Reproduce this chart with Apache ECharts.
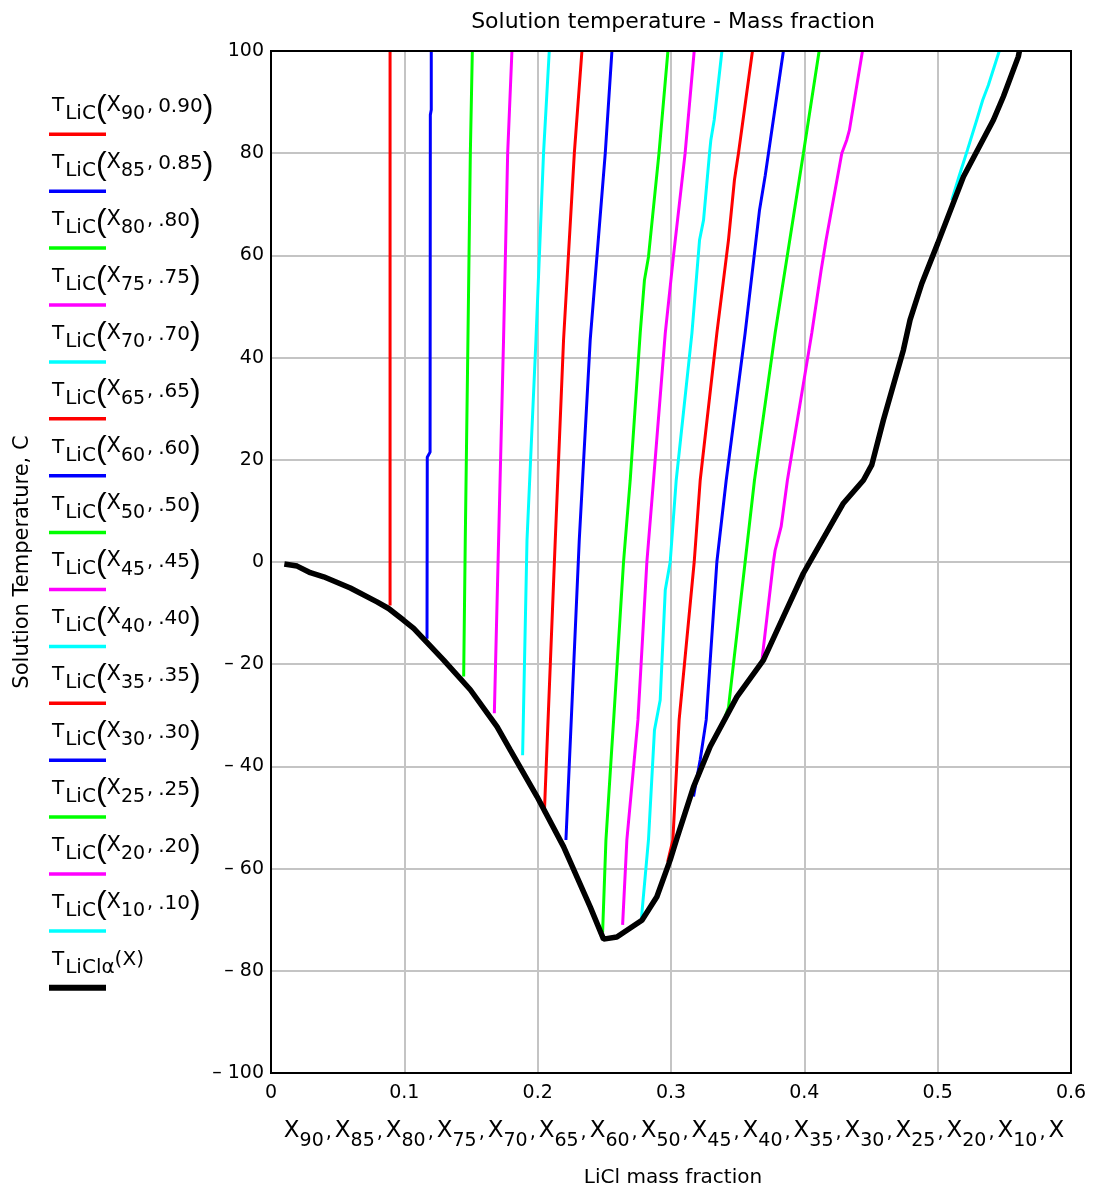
<!DOCTYPE html>
<html><head><meta charset="utf-8">
<script src="https://cdn.jsdelivr.net/npm/echarts@6/dist/echarts.min.js"></script>
<style>html,body{margin:0;padding:0;background:#fff}#c{width:1097px;height:1189px}</style>
</head><body><div id="c"></div>
<script>
// ---- data: [LiCl mass fraction, temperature C] ----
const X90 = [[0.0893,100],[0.0893,-8.5]];
const X85 = [[0.1202,100],[0.1202,88.5],[0.1195,87.5],[0.1193,21.5],[0.1172,20.5],[0.1170,-15.0]];
const X80 = [[0.1510,100],[0.1495,80],[0.1477,43.4],[0.1457,4.3],[0.1445,-22.4]];
const X75 = [[0.1807,100],[0.1775,80],[0.1744,43.4],[0.1707,4.3],[0.1675,-29.6]];
const X70 = [[0.2087,100],[0.2044,80],[0.1987,43.4],[0.1920,4.3],[0.1887,-37.8]];
const X65 = [[0.2332,100],[0.2275,80],[0.2194,43.4],[0.2132,4.3],[0.2050,-49.2]];
const X60 = [[0.2557,100],[0.2507,80],[0.2394,43.4],[0.2312,4.3],[0.2212,-54.4]];
const X50 = [[0.2977,100],[0.2910,80],[0.2831,59.7],[0.2801,55.2],[0.2769,44.8],[0.2694,16],[0.2644,0],[0.2572,-30],[0.2557,-36],[0.2512,-54.4],[0.2487,-72.5]];
const X45 = [[0.3174,100],[0.3106,80],[0.3019,60],[0.2957,44.8],[0.2869,16],[0.2819,0],[0.2752,-30.9],[0.2669,-54.4],[0.2637,-71.0]];
const X40 = [[0.3382,100],[0.3324,86.5],[0.3299,82.6],[0.3289,80],[0.3244,66.9],[0.3214,63],[0.3157,44.8],[0.3039,16],[0.2994,0],[0.2957,-5.5],[0.2919,-27],[0.2876,-32.9],[0.2831,-54.4],[0.2777,-70.1]];
const X35 = [[0.3611,100],[0.3506,80],[0.3476,74.8],[0.3431,63],[0.3344,44.8],[0.3219,16],[0.3174,0],[0.3061,-30.9],[0.3014,-54.4],[0.2975,-58.7]];
const X30 = [[0.3843,100],[0.3731,80],[0.3707,75.7],[0.3664,68.9],[0.3556,44.8],[0.3414,16],[0.3344,0],[0.3264,-30.9],[0.3219,-38.7],[0.3169,-45.9]];
const X25 = [[0.4111,100],[0.3993,80],[0.3781,44.8],[0.3626,16],[0.3556,0],[0.3431,-28.5],[0.3406,-30.3]];
const X20 = [[0.4436,100],[0.4338,84.5],[0.4318,82.6],[0.4281,80],[0.4163,63],[0.4126,57.1],[0.4056,44.8],[0.3873,16],[0.3826,6.9],[0.3781,2.3],[0.3768,0],[0.3681,-19.5]];
const X10 = [[0.5462,100],[0.5380,93.3],[0.5338,90.4],[0.5293,86.5],[0.5223,80.6],[0.5163,75.7],[0.5106,70.8]];
const XLIQ = [[0.0100,-0.4],[0.0196,-0.8],[0.0295,-2.1],[0.0395,-2.9],[0.0595,-5.1],[0.0795,-7.8],[0.0882,-9.1],[0.0995,-11.4],[0.1070,-13.0],[0.1295,-19.2],[0.1495,-25.0],[0.1695,-32.2],[0.1795,-36.8],[0.1995,-45.9],[0.2194,-55.7],[0.2394,-67.5],[0.2494,-73.8],[0.2594,-73.4],[0.2782,-70.1],[0.2894,-65.5],[0.2994,-58.3],[0.3044,-54.1],[0.3169,-44.0],[0.3294,-36.1],[0.3494,-26.4],[0.3693,-19.2],[0.3843,-10.7],[0.3993,-2.2],[0.4293,11.5],[0.4443,16.0],[0.4506,19.0],[0.4593,27.8],[0.4743,41.5],[0.4793,47.4],[0.4881,54.5],[0.5001,62.4],[0.5193,75.4],[0.5418,86.5],[0.5493,91.1],[0.5605,98.9],[0.5613,100]];

const SERIES_DATA = [X90,X85,X80,X75,X70,X65,X60,X50,X45,X40,X35,X30,X25,X20,X10,XLIQ];
const SUBS = ['90','85','80','75','70','65','60','50','45','40','35','30','25','20','10'];
const ARGS = ['0.90','0.85','.80','.75','.70','.65','.60','.50','.45','.40','.35','.30','.25','.20','.10'];
const COLORS = ['#ff0000','#0000ff','#00ff00','#ff00ff','#00ffff','#ff0000','#0000ff','#00ff00','#ff00ff','#00ffff','#ff0000','#0000ff','#00ff00','#ff00ff','#00ffff','#000000'];
const X_TICKS = [0,0.1,0.2,0.3,0.4,0.5,0.6];
const Y_TICKS = [-100,-80,-60,-40,-20,0,20,40,60,80,100];
const TITLE = 'Solution temperature - Mass fraction';
const Y_NAME = 'Solution Temperature, C';
const X_NAME2 = 'LiCl mass fraction';
const X_NAME_SUBS = ['90','85','80','75','70','65','60','50','45','40','35','30','25','20','10'];

const FONT = '"DejaVu Sans", Verdana, sans-serif';
const PFONT = '"Liberation Sans", Arial, sans-serif';
const chart = echarts.init(document.getElementById('c'), null, {renderer:'canvas'});

const series = SERIES_DATA.map((d,i)=>({
  type:'line', data:d, showSymbol:false, symbol:'none', animation:false,
  lineStyle:{color:COLORS[i], width: i===15 ? 5.5 : 3}, z: i===15 ? 5 : 3,
  silent:true
}));

const richLeg = {
  T:{fontSize:20,fontFamily:FONT,color:'#000',verticalAlign:'bottom',padding:[0,0,8,0]},
  s:{fontSize:20,fontFamily:FONT,color:'#000',verticalAlign:'bottom',padding:[0,0,0,1]},
  p:{fontSize:32,fontFamily:PFONT,color:'#000',verticalAlign:'bottom',padding:[0,0,0,0]},
  X:{fontSize:21,fontFamily:FONT,color:'#000',verticalAlign:'bottom',padding:[0,0,8,0]},
  n:{fontSize:19,fontFamily:FONT,color:'#000',verticalAlign:'bottom',padding:[0,0,0,0]},
  c:{fontSize:19,fontFamily:FONT,color:'#000',verticalAlign:'bottom',padding:[0,5,8,2]},
  v:{fontSize:20,fontFamily:FONT,color:'#000',verticalAlign:'bottom',padding:[0,0,7,0]},
  q:{fontSize:20,fontFamily:FONT,color:'#000',verticalAlign:'bottom',padding:[0,0,8,0]}
};

const graphics = [];
const STEP = 56.9;
for (let i=0;i<16;i++){
  let txt;
  if (i<15) txt = '{T|T}{s|LiC}{p|(}{X|X}{n|'+SUBS[i]+'}{c|,}{v|'+ARGS[i]+'}{p|)}';
  else txt = '{T|T}{s|LiClα}{q|(X)}';
  graphics.push({type:'text', x:52, y:124+STEP*i, silent:true,
    style:{text:txt, rich:richLeg, textAlign:'left', textVerticalAlign:'bottom', verticalAlign:'bottom', font:'20px '+FONT}});
  graphics.push({type:'line', silent:true, shape:{x1:49,y1:134.3+STEP*i,x2:106,y2:134.3+STEP*i},
    style:{stroke:COLORS[i], lineWidth: i===15?6:3.5}});
}
graphics.push({type:'text', x:673, y:22, silent:true,
  style:{text:TITLE, font:'22px '+FONT, fill:'#000', textAlign:'center', textVerticalAlign:'middle', align:'center', verticalAlign:'middle'}});
graphics.push({type:'text', x:23, y:562, rotation:Math.PI/2, silent:true,
  style:{text:Y_NAME, font:'21px '+FONT, fill:'#000', textAlign:'center', textVerticalAlign:'middle', align:'center', verticalAlign:'middle'}});
let xn = X_NAME_SUBS.map(s=>'{X|X}{n|'+s+'}{c|,}').join('') + '{X|X}';
graphics.push({type:'text', x:674, y:1151, silent:true,
  style:{text:xn, textAlign:'center', align:'center', textVerticalAlign:'bottom', verticalAlign:'bottom',
    rich:{
      X:{fontSize:23,fontFamily:FONT,color:'#000',verticalAlign:'bottom',padding:[0,0,8,0]},
      n:{fontSize:19,fontFamily:FONT,color:'#000',verticalAlign:'bottom',padding:[0,0,0,0]},
      c:{fontSize:19,fontFamily:FONT,color:'#000',verticalAlign:'bottom',padding:[0,3,8,2]}
    }}});
graphics.push({type:'text', x:673, y:1178, silent:true,
  style:{text:X_NAME2, font:'20px '+FONT, fill:'#000', textAlign:'center', textVerticalAlign:'middle', align:'center', verticalAlign:'middle'}});

const option = {
  animation:false,
  backgroundColor:'#ffffff',
  grid:{left:271, top:51, width:800, height:1022, show:false},
  xAxis:{type:'value', min:X_TICKS[0], max:X_TICKS[X_TICKS.length-1], interval:0.1,
    axisLine:{show:false}, axisTick:{show:false},
    splitLine:{show:true, showMinLine:false, showMaxLine:false, lineStyle:{color:'#c4c4c4', width:2}},
    axisLabel:{color:'#000', fontSize:19, fontFamily:FONT, margin:11,
      formatter:v=>{ const r=Math.round(v*10)/10; return X_TICKS.some(t=>Math.abs(t-r)<1e-9)? String(r):''; }}},
  yAxis:{type:'value', min:Y_TICKS[0], max:Y_TICKS[Y_TICKS.length-1], interval:20,
    axisLine:{show:false}, axisTick:{show:false},
    splitLine:{show:true, showMinLine:false, showMaxLine:false, lineStyle:{color:'#c4c4c4', width:2}},
    axisLabel:{color:'#000', fontSize:19, fontFamily:FONT, margin:7,
      formatter:v=> v<0 ? '\u2013 '+(-v) : String(v)}},
  series:series,
  graphic:graphics
};
chart.setOption(option);
// frame around the plot, placed through the axes' own scales
const p0 = chart.convertToPixel({gridIndex:0},[X_TICKS[0], Y_TICKS[Y_TICKS.length-1]]);
const p1 = chart.convertToPixel({gridIndex:0},[X_TICKS[X_TICKS.length-1], Y_TICKS[0]]);
graphics.push({type:'rect', silent:true, z:100, shape:{x:p0[0], y:p0[1], width:p1[0]-p0[0], height:p1[1]-p0[1]},
  style:{fill:null, stroke:'#000', lineWidth:2}});
chart.setOption({graphic:graphics});
</script></body></html>
